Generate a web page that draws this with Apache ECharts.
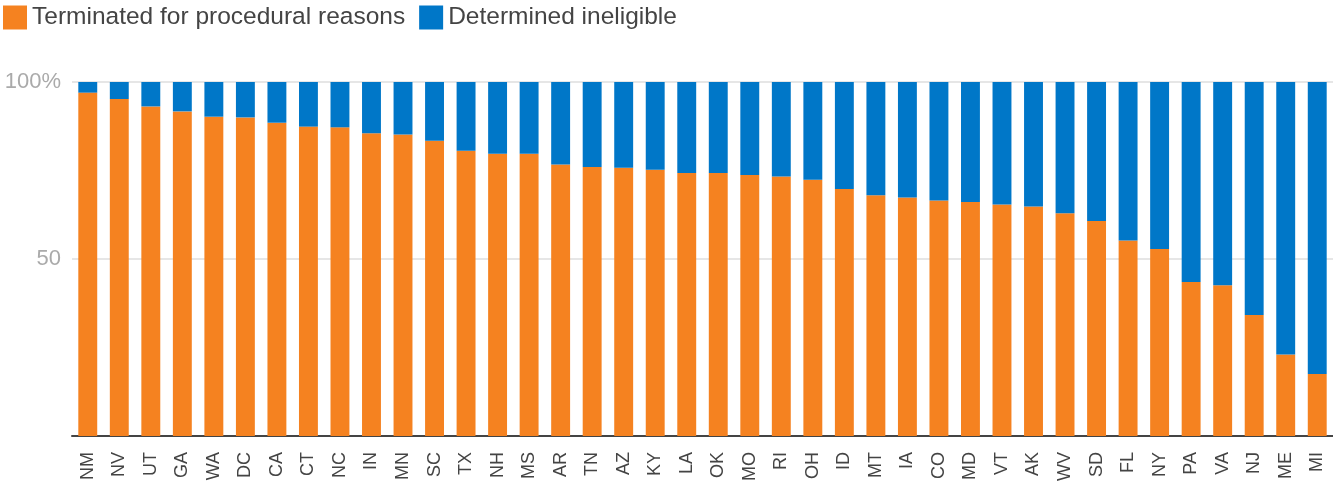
<!DOCTYPE html>
<html>
<head>
<meta charset="utf-8">
<script src="https://cdn.jsdelivr.net/npm/echarts@6/dist/echarts.min.js"></script>
<style>
  html, body { margin: 0; padding: 0; background: #fff; }
  #chart { width: 1333px; height: 484px; }
</style>
</head>
<body>
<div id="chart"></div>
<script>
var states = ['NM', 'NV', 'UT', 'GA', 'WA', 'DC', 'CA', 'CT', 'NC', 'IN', 'MN', 'SC', 'TX', 'NH',
  'MS', 'AR', 'TN', 'AZ', 'KY', 'LA', 'OK', 'MO', 'RI', 'OH', 'ID', 'MT', 'IA', 'CO', 'MD', 'VT',
  'AK', 'WV', 'SD', 'FL', 'NY', 'PA', 'VA', 'NJ', 'ME', 'MI'];

// share terminated for procedural reasons (%)
var procedural = [97.0, 95.2, 93.1, 91.7, 90.2, 90.0, 88.5, 87.4, 87.2, 85.5, 85.2, 83.4, 80.6, 79.7,
  79.7, 76.7, 76.0, 75.8, 75.2, 74.3, 74.3, 73.7, 73.3, 72.4, 69.8, 68.0, 67.4, 66.5, 66.1, 65.4,
  64.8, 62.9, 60.7, 55.2, 52.8, 43.5, 42.6, 34.2, 23.0, 17.5];

// share determined ineligible (%)
var ineligible = procedural.map(function (v) { return +(100 - v).toFixed(1); });

var chartDom = document.getElementById('chart');
var myChart = echarts.init(chartDom);
var option;

option = {
  animation: false,
  color: ['#F58220', '#0077C8'],
  legend: {
    left: 3,
    top: 5,
    padding: 0,
    icon: 'rect',
    itemWidth: 24,
    itemHeight: 24,
    itemGap: 14,
    textStyle: {
      fontFamily: 'Liberation Sans, Arial, sans-serif',
      fontSize: 24.5,
      color: '#444'
    }
  },
  grid: {
    left: 72,
    right: 0,
    top: 82,
    bottom: 48,
    containLabel: false
  },
  xAxis: {
    type: 'category',
    data: states,
    axisTick: { show: false },
    axisLine: {
      lineStyle: { color: '#444', width: 2 }
    },
    axisLabel: {
      rotate: 90,
      interval: 0,
      margin: 16,
      fontFamily: 'Liberation Sans, Arial, sans-serif',
      fontSize: 18,
      color: '#444'
    }
  },
  yAxis: {
    type: 'value',
    min: 0,
    max: 100,
    interval: 50,
    axisLine: { show: false },
    axisTick: { show: false },
    splitLine: {
      lineStyle: { color: '#e6e6e6', width: 2 }
    },
    axisLabel: {
      margin: 11,
      fontFamily: 'Liberation Sans, Arial, sans-serif',
      fontSize: 22,
      color: '#aaa',
      formatter: function (v) {
        if (v === 0) return '';
        return v === 100 ? '100%' : String(v);
      }
    }
  },
  series: [
    {
      name: 'Terminated for procedural reasons',
      type: 'bar',
      stack: 'total',
      barCategoryGap: '40%',
      data: procedural
    },
    {
      name: 'Determined ineligible',
      type: 'bar',
      stack: 'total',
      barCategoryGap: '40%',
      data: ineligible
    }
  ]
};

option && myChart.setOption(option);
</script>
</body>
</html>
